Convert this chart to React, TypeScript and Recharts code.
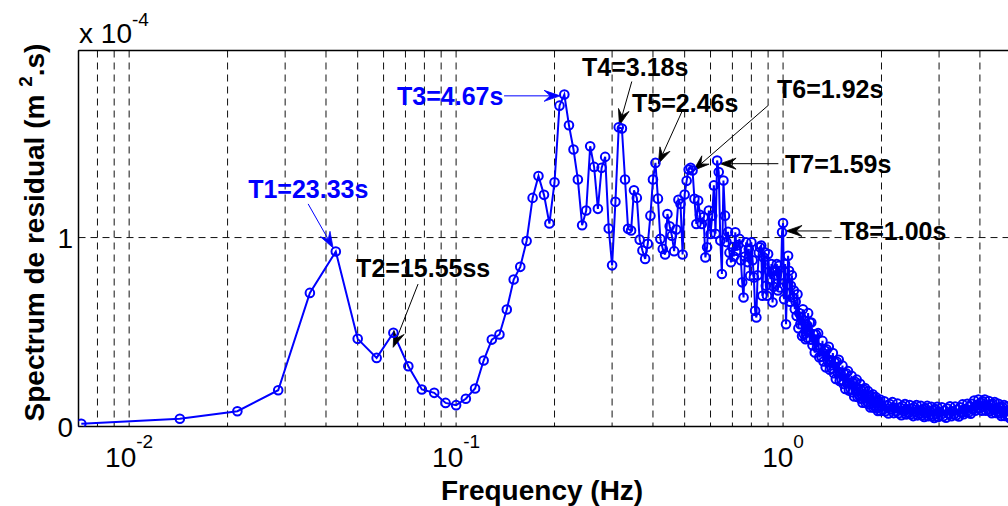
import { LineChart, Line, XAxis, YAxis, CartesianGrid, ReferenceLine, ReferenceDot } from 'recharts';

const FONT = '"Liberation Sans", Arial, Helvetica, sans-serif';
const BLUE = '#0000ff';

// frequency bins (Hz)
const freqHz = [
  0.00714, 0.01429, 0.02143, 0.02857, 0.03571, 0.04286, 0.05, 0.05714, 0.06429, 0.07143,
  0.07857, 0.08571, 0.09286, 0.1, 0.1071, 0.1143, 0.1214, 0.1286, 0.1357, 0.1429,
  0.15, 0.1571, 0.1643, 0.1714, 0.1786, 0.1857, 0.1929, 0.2, 0.2071, 0.2143,
  0.2214, 0.2286, 0.2357, 0.2429, 0.25, 0.2571, 0.2643, 0.2714, 0.2786, 0.2857,
  0.2929, 0.3, 0.3071, 0.3143, 0.3214, 0.3286, 0.3357, 0.3429, 0.35, 0.3571,
  0.3643, 0.3714, 0.3786, 0.3857, 0.3929, 0.4, 0.4071, 0.4143, 0.4214, 0.4286,
  0.4357, 0.4429, 0.45, 0.4571, 0.4643, 0.4714, 0.4786, 0.4857, 0.4929, 0.5,
  0.5071, 0.5143, 0.5214, 0.5286, 0.5357, 0.5429, 0.55, 0.5571, 0.5643, 0.5714,
  0.5786, 0.5857, 0.5929, 0.6, 0.6071, 0.6143, 0.6214, 0.6286, 0.6357, 0.6429,
  0.65, 0.6571, 0.6643, 0.6714, 0.6786, 0.6857, 0.6929, 0.7, 0.7071, 0.7143,
  0.7214, 0.7286, 0.7357, 0.7429, 0.75, 0.7571, 0.7643, 0.7714, 0.7786, 0.7857,
  0.7929, 0.8, 0.8071, 0.8143, 0.8214, 0.8286, 0.8357, 0.8429, 0.85, 0.8571,
  0.8643, 0.8714, 0.8786, 0.8857, 0.8929, 0.9, 0.9071, 0.9143, 0.9214, 0.9286,
  0.9357, 0.9429, 0.95, 0.9571, 0.9643, 0.9714, 0.9786, 0.9857, 0.9929, 1.0,
  1.007, 1.014, 1.021, 1.029, 1.036, 1.043, 1.05, 1.057, 1.064, 1.071,
  1.079, 1.086, 1.093, 1.1, 1.107, 1.114, 1.121, 1.129, 1.136, 1.143,
  1.15, 1.157, 1.164, 1.171, 1.179, 1.186, 1.193, 1.2, 1.207, 1.214,
  1.22, 1.23, 1.24, 1.25, 1.26, 1.27, 1.28, 1.29, 1.3, 1.31,
  1.32, 1.33, 1.34, 1.35, 1.36, 1.37, 1.38, 1.39, 1.4, 1.41,
  1.42, 1.43, 1.44, 1.45, 1.46, 1.47, 1.48, 1.49, 1.5, 1.51,
  1.52, 1.53, 1.54, 1.55, 1.56, 1.57, 1.58, 1.59, 1.6, 1.61,
  1.62, 1.63, 1.64, 1.65, 1.66, 1.67, 1.68, 1.69, 1.7, 1.71,
  1.72, 1.73, 1.74, 1.75, 1.76, 1.77, 1.78, 1.79, 1.8, 1.81,
  1.82, 1.83, 1.84, 1.85, 1.86, 1.87, 1.88, 1.89, 1.9, 1.91,
  1.92, 1.93, 1.94, 1.95, 1.96, 1.97, 1.98, 1.99, 2.0,
  2.02, 2.04, 2.06, 2.08, 2.1, 2.12, 2.14, 2.16, 2.18, 2.2,
  2.22, 2.24, 2.26, 2.28, 2.3, 2.32, 2.34, 2.36, 2.38, 2.4,
  2.42, 2.44, 2.46, 2.48, 2.5, 2.52, 2.54, 2.56, 2.58, 2.6,
  2.62, 2.64, 2.66, 2.68, 2.7, 2.72, 2.74, 2.76, 2.78, 2.8,
  2.82, 2.84, 2.86, 2.88, 2.9, 2.92, 2.94, 2.96, 2.98, 3.0,
  3.03, 3.06, 3.09, 3.12, 3.15, 3.18, 3.21, 3.24, 3.27, 3.3,
  3.33, 3.36, 3.39, 3.42, 3.45, 3.48, 3.51, 3.54, 3.57, 3.6,
  3.63, 3.66, 3.69, 3.72, 3.75, 3.78, 3.81, 3.84, 3.87, 3.9,
  3.93, 3.96, 3.99, 4.02, 4.05, 4.08, 4.11, 4.14, 4.17, 4.2,
  4.23, 4.26, 4.29, 4.32, 4.35, 4.38, 4.41, 4.44, 4.47, 4.5,
  4.53, 4.56, 4.59, 4.62, 4.65, 4.68, 4.71, 4.74, 4.77, 4.8,
  4.83, 4.86, 4.89, 4.92, 4.95, 4.98,
];

// spectrum of residual, in units of 1e-4 m^2.s
const residual = [
  0.014, 0.041, 0.081, 0.192, 0.707, 0.926, 0.464, 0.363, 0.496, 0.319,
  0.196, 0.178, 0.125, 0.113, 0.147, 0.201, 0.349, 0.46, 0.487, 0.619,
  0.778, 0.845, 0.982, 1.21, 1.326, 1.226, 1.074, 1.293, 1.698, 1.757,
  1.594, 1.466, 1.307, 1.065, 1.143, 1.483, 1.374, 1.152, 1.369, 1.427,
  1.048, 0.853, 1.189, 1.584, 1.577, 1.307, 1.046, 1.037, 1.25, 1.21,
  0.989, 0.931, 0.887, 0.967, 1.116, 1.307, 1.395, 1.206, 0.993, 0.94,
  0.91, 1.125, 1.06, 1.01, 0.928, 1.042, 1.2, 1.178, 0.91, 1.228,
  1.3, 1.36, 1.369, 1.355, 1.205, 1.072, 1.196, 1.12, 1.072, 1.108,
  0.895, 0.949, 1.143, 1.019, 1.116, 1.276, 1.02, 1.408, 1.347, 0.984,
  0.807, 1.302, 1.116, 0.976, 1.03, 0.92, 0.869, 0.95, 0.9, 1.028,
  0.93, 0.96, 0.993, 0.88, 0.763, 0.683, 0.9, 0.975, 0.87, 0.94,
  0.798, 0.975, 0.88, 0.789, 0.612, 0.577, 0.8, 0.92, 0.949, 0.958,
  0.692, 0.895, 0.922, 0.745, 0.692, 0.913, 0.82, 0.78, 0.86, 0.657,
  0.74, 0.824, 0.8, 0.86, 0.72, 0.85, 0.736, 0.8, 1.028, 1.077,
  0.674, 0.86, 0.541, 0.75, 0.904, 0.824, 0.66, 0.745, 0.8, 0.683,
  0.72, 0.621, 0.66, 0.585, 0.7, 0.52, 0.6, 0.541, 0.58, 0.479,
  0.62, 0.49, 0.56, 0.462, 0.54, 0.47, 0.6, 0.5, 0.55, 0.46,
  0.55, 0.43, 0.488, 0.391, 0.488, 0.418, 0.494, 0.366, 0.414, 0.37,
  0.453, 0.344, 0.402, 0.313, 0.408, 0.345, 0.422, 0.3, 0.351, 0.307,
  0.389, 0.282, 0.338, 0.252, 0.343, 0.282, 0.353, 0.241, 0.287, 0.247,
  0.322, 0.225, 0.277, 0.199, 0.282, 0.228, 0.293, 0.19, 0.233, 0.198,
  0.268, 0.181, 0.229, 0.159, 0.237, 0.187, 0.248, 0.156, 0.196, 0.164,
  0.226, 0.147, 0.19, 0.126, 0.197, 0.151, 0.204, 0.124, 0.158, 0.13,
  0.187, 0.117, 0.156, 0.101, 0.162, 0.123, 0.171, 0.1, 0.131, 0.107,
  0.156, 0.096, 0.13, 0.082, 0.135, 0.101, 0.143, 0.082, 0.109,
  0.089, 0.133, 0.081, 0.112, 0.069, 0.119, 0.09, 0.129, 0.071, 0.098,
  0.079, 0.121, 0.07, 0.1, 0.06, 0.108, 0.08, 0.119, 0.064, 0.091,
  0.072, 0.114, 0.065, 0.095, 0.055, 0.103, 0.075, 0.114, 0.059, 0.086,
  0.067, 0.109, 0.06, 0.09, 0.05, 0.098, 0.07, 0.109, 0.054, 0.081,
  0.062, 0.104, 0.055, 0.085, 0.045, 0.092, 0.065, 0.104, 0.05, 0.077,
  0.059, 0.102, 0.054, 0.085, 0.046, 0.095, 0.068, 0.107, 0.054, 0.081,
  0.064, 0.106, 0.059, 0.09, 0.053, 0.102, 0.077, 0.117, 0.065, 0.093,
  0.077, 0.12, 0.074, 0.106, 0.068, 0.12, 0.094, 0.137, 0.083, 0.113,
  0.096, 0.143, 0.095, 0.126, 0.083, 0.133, 0.103, 0.143, 0.084, 0.112,
  0.091, 0.135, 0.082, 0.113, 0.07, 0.12, 0.09, 0.129, 0.072, 0.098,
  0.078, 0.12, 0.069, 0.098, 0.056, 0.104, 0.075, 0.114, 0.056, 0.082,
  0.062, 0.104, 0.053, 0.083, 0.043, 0.093,
];

const gridFreqs = [
  0.008, 0.009, 0.01, 0.02, 0.03, 0.04, 0.05, 0.06, 0.07, 0.08, 0.09,
  0.1, 0.2, 0.3, 0.4, 0.5, 0.6, 0.7, 0.8, 0.9, 1, 2, 3, 4,
];
const decadeExp: Record<string, string> = { '0.01': '-2', '0.1': '-1', '1': '0' };
const yTicks = [0, 1];
const X_DOMAIN = [0.007, 5];
const Y_DOMAIN = [0, 1.99];

// peak annotations: text, colour, arrow tail, arrow head, text anchor (Hz, 1e-4 m^2.s)
const peakText = ['T1=23.33s', 'T2=15.55ss', 'T3=4.67s', 'T4=3.18s', 'T5=2.46s', 'T6=1.92s', 'T7=1.59s', 'T8=1.00s'];
const peakColor = [BLUE, '#000', BLUE, '#000', '#000', '#000', '#000', '#000'];
const arrowFrom = [[0.03527, 1.178], [0.0765, 0.754], [0.1402, 1.75], [0.3446, 1.826], [0.49, 1.665], [0.9016, 1.7], [0.9674, 1.391], [1.409, 1.035]];
const arrowTo = [[0.04206, 0.945], [0.0642, 0.419], [0.208, 1.75], [0.3158, 1.594], [0.4155, 1.391], [0.5317, 1.355], [0.6418, 1.391], [1.0213, 1.035]];
const textAt = [[0.02312, 1.21], [0.04945, 0.791], [0.066, 1.704], [0.2428, 1.856], [0.3453, 1.665], [0.9586, 1.736], [1.0142, 1.343], [1.494, 0.989]];

const rows = freqHz.map((f, i) => ({ f, v: residual[i] }));

function FreqTick(props: any) {
  const { x, y, payload } = props;
  const exp = decadeExp[String(payload.value)];
  if (!exp) return <g />;
  return (
    <text x={x} y={y + 40} textAnchor="middle" fontFamily={FONT} fontSize={28} fill="#000">
      <tspan>10</tspan>
      <tspan dy={-19} fontSize={19}>{exp}</tspan>
    </text>
  );
}

function ValueTick(props: any) {
  const { x, y, payload } = props;
  return (
    <text x={x - 5.5} y={y + 10} textAnchor="end" fontFamily={FONT} fontSize={28} fill="#000">
      {payload.value}
    </text>
  );
}

function arrowShape(color: string) {
  return (p: any) => {
    const { x1, y1, x2, y2 } = p;
    if (x1 == null || x2 == null) return <g />;
    const a = Math.atan2(y2 - y1, x2 - x1);
    const ux = Math.cos(a), uy = Math.sin(a);
    const nx = -uy, ny = ux;
    const L = 16, W = 5.5, N = 10;
    const bx = x2 - L * ux, by = y2 - L * uy;
    const mx = x2 - N * ux, my = y2 - N * uy;
    const pts = `${x2},${y2} ${bx + W * nx},${by + W * ny} ${mx},${my} ${bx - W * nx},${by - W * ny}`;
    return (
      <g>
        <line x1={x1} y1={y1} x2={mx} y2={my} stroke={color} strokeWidth={1} />
        <polygon points={pts} fill={color} stroke={color} strokeWidth={0.8} />
      </g>
    );
  };
}

function textShape(label: string, color: string) {
  return (p: any) => (
    <text x={p.cx} y={p.cy} fontFamily={FONT} fontWeight="bold" fontSize={25} fill={color}>
      {label}
    </text>
  );
}

function multiplierShape(p: any) {
  return (
    <text x={p.cx + 0.6} y={p.cy - 8} fontFamily={FONT} fontSize={28} fill="#000">
      <tspan>x 10</tspan>
      <tspan dy={-17} fontSize={19}>-4</tspan>
    </text>
  );
}

function frameLine(p: any) {
  const { x1, y1, x2, y2 } = p;
  if (x1 == null) return <g />;
  return <line x1={x1} y1={y1} x2={x2} y2={y2} stroke="#000" strokeWidth={1.5} />;
}

export default function App() {
  return (
    <div style={{ position: 'absolute', left: 0, top: 0, width: 1008, height: 506, overflow: 'hidden', background: '#fff' }}>
      <LineChart width={1020} height={506} data={rows} margin={{ top: 50.5, right: 8.4, bottom: 29.5, left: 18.5 }}>
        <CartesianGrid stroke="#111" strokeDasharray="7 5" horizontal vertical />
        <XAxis
          dataKey="f"
          type="number"
          scale="log"
          domain={X_DOMAIN}
          allowDataOverflow
          ticks={gridFreqs}
          interval={0}
          tick={<FreqTick />}
          tickLine={false}
          tickSize={0}
          tickMargin={0}
          height={50}
          axisLine={{ stroke: '#000', strokeWidth: 1.5 }}
          label={{
            content: (lp: any) => {
              const vb = lp.viewBox || {};
              return (
                <text x={vb.x + vb.width / 2 - 3} y={vb.y + 73.5} textAnchor="middle" fontFamily={FONT} fontWeight="bold" fontSize={28} fill="#000">
                  Frequency (Hz)
                </text>
              );
            },
          }}
        />
        <YAxis
          type="number"
          domain={Y_DOMAIN}
          allowDataOverflow
          ticks={yTicks}
          interval={0}
          tick={<ValueTick />}
          tickLine={false}
          tickSize={0}
          tickMargin={0}
          width={60}
          axisLine={{ stroke: '#000', strokeWidth: 1.5 }}
          label={{
            content: (lp: any) => {
              const vb = lp.viewBox || {};
              const cx = vb.x + 25;
              const cy = vb.y + vb.height / 2 - 6;
              return (
                <text x={cx} y={cy} textAnchor="middle" transform={`rotate(-90 ${cx} ${cy})`} fontFamily={FONT} fontWeight="bold" fontSize={28} fill="#000">
                  <tspan>Spectrum de residual (m </tspan>
                  <tspan dy={-12} fontSize={19}>2</tspan>
                  <tspan dy={12}>.s)</tspan>
                </text>
              );
            },
          }}
        />
        <Line
          type="linear"
          dataKey="v"
          stroke={BLUE}
          strokeWidth={2}
          dot={{ r: 4.3, stroke: BLUE, strokeWidth: 2, fill: 'none' }}
          activeDot={false}
          isAnimationActive={false}
        />
        {/* top frame line */}
        <ReferenceLine
          segment={[
            { x: X_DOMAIN[0], y: Y_DOMAIN[1] },
            { x: X_DOMAIN[1], y: Y_DOMAIN[1] },
          ]}
          ifOverflow="visible"
          shape={frameLine}
        />
        {peakText.map((t, i) => (
          <ReferenceLine
            key={`a${i}`}
            segment={[
              { x: arrowFrom[i][0], y: arrowFrom[i][1] },
              { x: arrowTo[i][0], y: arrowTo[i][1] },
            ]}
            ifOverflow="visible"
            shape={arrowShape(peakColor[i])}
          />
        ))}
        {peakText.map((t, i) => (
          <ReferenceDot
            key={`t${i}`}
            x={textAt[i][0]}
            y={textAt[i][1]}
            r={0}
            ifOverflow="visible"
            shape={textShape(t, peakColor[i])}
          />
        ))}
        <ReferenceDot x={X_DOMAIN[0]} y={Y_DOMAIN[1]} r={0} ifOverflow="visible" shape={multiplierShape} />
      </LineChart>
    </div>
  );
}
